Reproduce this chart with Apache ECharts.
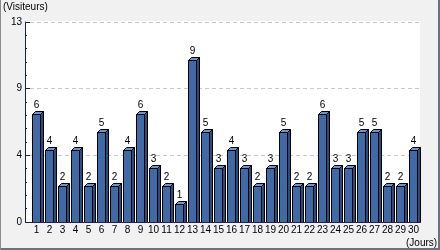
<!DOCTYPE html>
<html>
<head>
<meta charset="utf-8">
<script src="https://cdn.jsdelivr.net/npm/echarts@6/dist/echarts.min.js"></script>
<style>
html,body{margin:0;padding:0;background:#f1f1f1;}
#c{width:440px;height:250px;}
</style>
</head>
<body>
<div id="c"></div>
<script>
const days = ['1','2','3','4','5','6','7','8','9','10','11','12','13','14','15','16','17','18','19','20','21','22','23','24','25','26','27','28','29','30'];
const visitors = [6,4,2,4,2,5,2,4,6,3,2,1,9,5,3,4,3,2,3,5,2,2,6,3,3,5,5,2,2,4];
const yTickLabels = ['0','4','9','13'];
const yAxisTitle = '(Visiteurs)';
const xAxisTitle = '(Jours)';

const chart = echarts.init(document.getElementById('c'), null, {renderer:'canvas'});
const FONT = 'Liberation Sans, Arial, sans-serif';

chart.setOption({
  backgroundColor: '#f1f1f1',
  animation: false,
  graphic: [
    {type:'rect', z:-10, shape:{x:25, y:21, width:395, height:201}, style:{fill:'#ffffff'}},
    {type:'line', z:50, shape:{x1:25, y1:222.5, x2:420, y2:222.5}, style:{stroke:'#1c1c6c', lineWidth:1}},
    {type:'rect', shape:{x:438, y:0, width:2, height:250}, style:{fill:'#6f707c'}},
    {type:'rect', shape:{x:0, y:248, width:440, height:2}, style:{fill:'#6f707c'}},
    {type:'rect', shape:{x:0, y:0, width:1, height:250}, style:{fill:'#8a8b95'}},
    {type:'text', left:3, top:2, style:{text:yAxisTitle, font:'10px ' + FONT, fill:'#000'}},
    {type:'text', left:406, top:238, style:{text:xAxisTitle, font:'10px ' + FONT, fill:'#000'}}
  ],
  grid: {left:30, right:20, top:22, bottom:28},
  xAxis: {
    type:'category',
    data: days,
    boundaryGap:true,
    axisLine:{show:false},
    axisTick:{show:false},
    axisLabel:{interval:0, margin:3, fontSize:10, fontFamily:FONT, color:'#000'}
  },
  yAxis: [
    {
      type:'value', min:0, max:13, interval:13/3, offset:5,
      axisLine:{show:true, lineStyle:{color:'#1c1c6c', width:1}},
      axisTick:{show:true, inside:true, length:5, lineStyle:{color:'#1c1c6c'}},
      minorTick:{show:true, splitNumber:5, length:2, lineStyle:{color:'#1c1c6c'}},
      axisLabel:{margin:3, fontSize:10, fontFamily:FONT, color:'#000',
        formatter:(v, i) => yTickLabels[i]},
      splitLine:{show:true, lineStyle:{color:'#c8c8c8', type:[4,3], width:1}}
    },
    {type:'value', min:0, max:11.1, show:false, splitLine:{show:false}}
  ],
  series: [{
    type:'custom',
    yAxisIndex:1,
    data: visitors.map((v,i)=>[i,v]),
    renderItem: function(params, api){
      const idx = api.value(0), v = api.value(1);
      const top = api.coord([idx, v]);
      const base = api.coord([idx, 0]);
      const w = 8, d = 3;
      const x0 = Math.round(top[0] - 5) + 0.5;
      const yt = Math.round(top[1]) + 0.5;
      const yb = Math.round(base[1]) + 0.5;
      return {type:'group', children:[
        {type:'polygon', shape:{points:[[x0+w,yt],[x0+w+d,yt-d],[x0+w+d,yb],[x0+w,yb]]},
          style:{fill:'#2b4c7c', stroke:'#000', lineWidth:1}},
        {type:'polygon', shape:{points:[[x0,yt],[x0+d,yt-d],[x0+w+d,yt-d],[x0+w,yt]]},
          style:{fill:'#6f94c8', stroke:'#000', lineWidth:1}},
        {type:'rect', shape:{x:x0, y:yt, width:w, height:yb-yt},
          style:{fill:'#3f6aa6', stroke:'#000', lineWidth:1}},
        {type:'text', x:x0 + w/2, y:yt - 4,
          style:{text:String(v), font:'10px ' + FONT, fill:'#000', align:'center', verticalAlign:'bottom'}}
      ]};
    }
  }]
});
</script>
</body>
</html>
